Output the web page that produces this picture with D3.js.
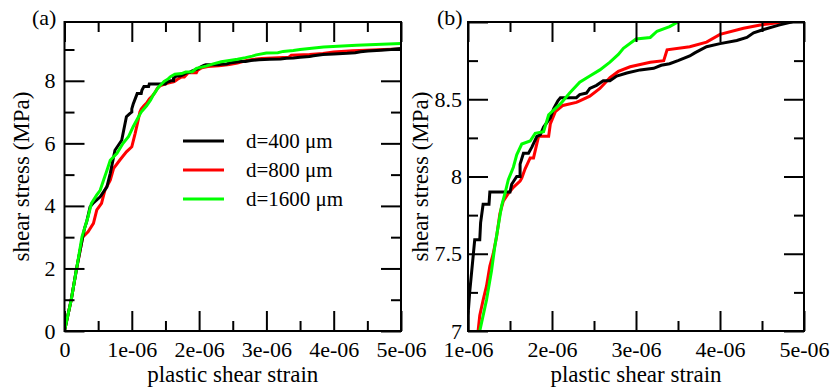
<!DOCTYPE html>
<html>
<head>
<meta charset="utf-8">
<script src="https://cdn.jsdelivr.net/npm/d3@7"></script>
<style>
  body { margin: 0; background: #fff; }
  svg, svg text { font-family: "Liberation Serif", "Times New Roman", Times, "DejaVu Serif", serif; }
</style>
</head>
<body>
<div id="chart"></div>
<script>
// strain values are in units of 1e-06, stress in MPa
var seriesNames = ["d=400 \u03bcm", "d=800 \u03bcm", "d=1600 \u03bcm"];
var seriesColors = ["#000000", "#ff0000", "#00ff00"];
var serif = "Liberation Serif, Times New Roman, Times, DejaVu Serif, serif";

var d400 = [[0,0],[0.1,1],[0.18,2],[0.27,3],[0.3,3.3],[0.33,3.5],[0.38,3.97],[0.43,4.1],[0.53,4.29],[0.63,4.61],
  [0.68,5.04],[0.75,5.78],[0.85,6.1],[0.92,6.85],[0.97,6.95],[1.0,7.0],[1.0,7.1],[1.02,7.25],[1.08,7.59],[1.14,7.59],
  [1.15,7.7],[1.18,7.82],[1.25,7.82],[1.26,7.9],[1.5,7.9],[1.52,7.95],[1.58,8.0],[1.62,8.0],[1.62,8.08],[1.66,8.15],
  [1.72,8.15],[1.76,8.19],[1.82,8.26],[1.86,8.27],[1.9,8.32],[1.98,8.38],[2.02,8.44],[2.07,8.49],[2.1,8.51],[2.29,8.51],
  [2.33,8.53],[2.41,8.54],[2.45,8.57],[2.53,8.59],[2.61,8.62],[2.69,8.62],[2.77,8.65],[2.89,8.67],[3.05,8.69],[3.21,8.7],
  [3.3,8.72],[3.4,8.73],[3.5,8.75],[3.64,8.78],[3.7,8.8],[3.84,8.84],[4.0,8.86],[4.2,8.88],[4.32,8.9],[4.4,8.93],
  [4.51,8.95],[4.7,8.98],[4.85,9.0],[5.0,9.03]];

var d800 = [[0,0],[0.1,1],[0.18,2],[0.27,3],[0.35,3.17],[0.43,3.44],[0.48,3.87],[0.55,4.08],[0.6,4.5],[0.68,4.82],
  [0.73,5.2],[0.82,5.46],[0.92,5.73],[1.0,5.89],[1.05,6.32],[1.1,6.8],[1.12,7.0],[1.14,7.1],[1.18,7.2],[1.22,7.29],
  [1.26,7.42],[1.3,7.5],[1.34,7.61],[1.38,7.76],[1.42,7.84],[1.48,7.89],[1.54,7.93],[1.62,7.97],[1.64,7.99],[1.68,8.05],
  [1.74,8.12],[1.78,8.12],[1.84,8.26],[1.96,8.26],[1.98,8.34],[2.04,8.42],[2.13,8.46],[2.29,8.48],[2.33,8.49],[2.45,8.52],
  [2.57,8.57],[2.69,8.64],[2.79,8.68],[2.93,8.71],[3.17,8.74],[3.33,8.75],[3.37,8.82],[3.64,8.84],[3.84,8.87],[4.0,8.92],
  [4.28,8.96],[4.48,8.98],[4.75,9.0],[5.0,9.02]];

var d1600 = [[0,0],[0.1,1],[0.18,2],[0.26,3.01],[0.35,3.65],[0.4,4.08],[0.48,4.35],[0.53,4.5],[0.58,4.82],[0.63,5.13],
  [0.68,5.46],[0.78,5.68],[0.87,6.0],[0.95,6.21],[1.02,6.53],[1.1,6.85],[1.14,7.0],[1.22,7.2],[1.28,7.39],[1.32,7.55],
  [1.36,7.68],[1.4,7.81],[1.44,7.89],[1.48,7.98],[1.54,8.06],[1.58,8.14],[1.64,8.21],[1.74,8.23],[1.8,8.28],[1.9,8.29],
  [1.96,8.4],[2.1,8.47],[2.21,8.54],[2.33,8.61],[2.45,8.65],[2.57,8.69],[2.69,8.74],[2.79,8.79],[2.85,8.83],[3.0,8.89],
  [3.17,8.9],[3.25,8.94],[3.4,8.97],[3.5,9.0],[3.85,9.08],[4.34,9.14],[5.0,9.19]];

var allSeries = [d400, d800, d1600];

// panel (a) ticks
var xTicksA = [0, 1, 2, 3, 4, 5];
var xTickLabelsA = ["0", "1e-06", "2e-06", "3e-06", "4e-06", "5e-06"];
var xMinorA = [0.5, 1.5, 2.5, 3.5, 4.5];
var yTicksA = [0, 2, 4, 6, 8];
var yTickLabelsA = ["0", "2", "4", "6", "8"];
var yMinorA = [1, 3, 5, 7, 9];

// panel (b) ticks
var xTicksB = [1, 2, 3, 4, 5];
var xTickLabelsB = ["1e-06", "2e-06", "3e-06", "4e-06", "5e-06"];
var xMinorB = [1.5, 2.5, 3.5, 4.5];
var yTicksB = [7, 7.5, 8, 8.5, 9];
var yTickLabelsB = ["7", "7.5", "8", "8.5", ""];
var yMinorB = [7.25, 7.75, 8.25, 8.75];

var W = 833, H = 391;
var svg = d3.select("#chart").append("svg")
  .attr("width", W).attr("height", H)
  .attr("font-family", serif);

function drawPanel(p) {
  var x = d3.scaleLinear().domain(p.xDomain).range([p.left, p.right]);
  var y = d3.scaleLinear().domain(p.yDomain).range([p.bottom, p.top]);

  var clipId = "clip-" + p.name;
  svg.append("clipPath").attr("id", clipId)
    .append("rect")
      .attr("x", p.left).attr("y", p.top)
      .attr("width", p.right - p.left).attr("height", p.bottom - p.top);

  var line = d3.line()
    .x(function(d) { return x(d[0]); })
    .y(function(d) { return y(d[1]); });

  var g = svg.append("g").attr("clip-path", "url(#" + clipId + ")");
  // red under black, green on top
  [1, 0, 2].forEach(function(i) {
    g.append("path")
      .datum(allSeries[i])
      .attr("fill", "none")
      .attr("stroke", seriesColors[i])
      .attr("stroke-width", 3)
      .attr("d", line);
  });

  function axisStyle(sel) {
    sel.attr("font-family", serif).attr("font-size", 22);
    sel.select(".domain").remove();
    sel.selectAll("line").attr("stroke", "#000").attr("stroke-width", 2);
    sel.selectAll("text").attr("fill", "#000");
  }

  // bottom
  svg.append("g").attr("transform", "translate(0," + p.bottom + ")")
    .call(d3.axisBottom(x).tickValues(p.xTicks).tickSize(-20).tickPadding(10)
      .tickFormat(function(d, i) { return p.xLabels[i]; }))
    .call(axisStyle);
  svg.append("g").attr("transform", "translate(0," + p.bottom + ")")
    .call(d3.axisBottom(x).tickValues(p.xMinor).tickSize(-10).tickFormat(""))
    .call(axisStyle);
  // top
  svg.append("g").attr("transform", "translate(0," + p.top + ")")
    .call(d3.axisTop(x).tickValues(p.xTicks).tickSize(-20).tickFormat(""))
    .call(axisStyle);
  svg.append("g").attr("transform", "translate(0," + p.top + ")")
    .call(d3.axisTop(x).tickValues(p.xMinor).tickSize(-10).tickFormat(""))
    .call(axisStyle);
  // left
  svg.append("g").attr("transform", "translate(" + p.left + ",0)")
    .call(d3.axisLeft(y).tickValues(p.yTicks).tickSize(-20).tickPadding(p.yPad)
      .tickFormat(function(d, i) { return p.yLabels[i]; }))
    .call(axisStyle);
  svg.append("g").attr("transform", "translate(" + p.left + ",0)")
    .call(d3.axisLeft(y).tickValues(p.yMinor).tickSize(-10).tickFormat(""))
    .call(axisStyle);
  // right
  svg.append("g").attr("transform", "translate(" + p.right + ",0)")
    .call(d3.axisRight(y).tickValues(p.yTicks).tickSize(-20).tickFormat(""))
    .call(axisStyle);
  svg.append("g").attr("transform", "translate(" + p.right + ",0)")
    .call(d3.axisRight(y).tickValues(p.yMinor).tickSize(-10).tickFormat(""))
    .call(axisStyle);

  // frame
  svg.append("rect")
    .attr("x", p.left).attr("y", p.top)
    .attr("width", p.right - p.left).attr("height", p.bottom - p.top)
    .attr("fill", "none").attr("stroke", "#000").attr("stroke-width", 2);

  svg.append("text")
    .attr("x", (p.left + p.right) / 2).attr("y", 382)
    .attr("text-anchor", "middle").attr("font-size", 23)
    .attr("font-family", serif)
    .text("plastic shear strain");

  svg.append("text")
    .attr("transform", "translate(" + p.titleX + "," + ((p.top + p.bottom) / 2) + ") rotate(-90)")
    .attr("text-anchor", "middle").attr("font-size", 23)
    .attr("font-family", serif)
    .text("shear stress (MPa)");

  svg.append("text")
    .attr("x", p.tagX).attr("y", 25)
    .attr("font-size", 22)
    .attr("font-family", serif)
    .text(p.tag);

  return { x: x, y: y };
}

drawPanel({
  name: "a", tag: "(a)", tagX: 32, titleX: 29, yPad: 9,
  left: 64.5, right: 401, top: 22, bottom: 331,
  xDomain: [0, 5], yDomain: [0, 9.88],
  xTicks: xTicksA, xLabels: xTickLabelsA, xMinor: xMinorA,
  yTicks: yTicksA, yLabels: yTickLabelsA, yMinor: yMinorA
});

drawPanel({
  name: "b", tag: "(b)", tagX: 437, titleX: 428, yPad: 6,
  left: 468, right: 804, top: 22, bottom: 331,
  xDomain: [1, 5], yDomain: [7, 9],
  xTicks: xTicksB, xLabels: xTickLabelsB, xMinor: xMinorB,
  yTicks: yTicksB, yLabels: yTickLabelsB, yMinor: yMinorB
});

// legend in panel (a)
var legend = svg.append("g");
seriesNames.forEach(function(name, i) {
  var ly = 141 + i * 29;
  legend.append("line")
    .attr("x1", 183).attr("x2", 224).attr("y1", ly).attr("y2", ly)
    .attr("stroke", seriesColors[i]).attr("stroke-width", 3);
  legend.append("text")
    .attr("x", 246).attr("y", ly + 7)
    .attr("font-size", 21)
    .attr("font-family", serif)
    .text(name);
});
</script>
</body>
</html>
